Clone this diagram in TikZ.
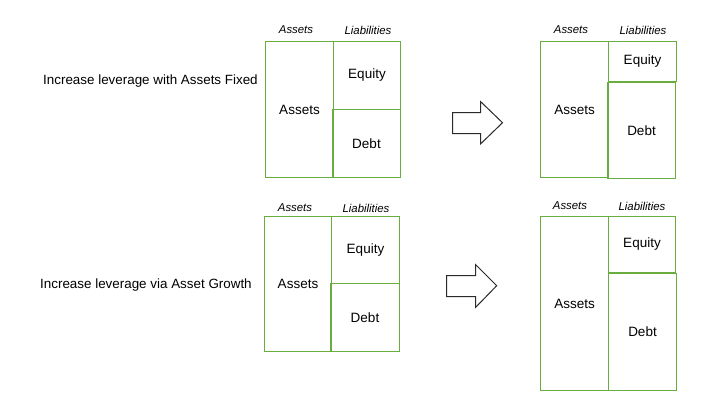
\documentclass[tikz,border=0pt]{standalone}
\usepackage{fontspec}
\setmainfont{Liberation Sans}
\definecolor{boxgreen}{HTML}{6AAD3F}
\definecolor{arrowgray}{HTML}{2A2A2A}
\begin{document}
\begin{tikzpicture}[x=1pt,y=-1pt,
  box/.style={draw=boxgreen,line width=1pt,inner sep=0pt,outer sep=0pt,anchor=north west,font=\fontsize{13.5}{15}\selectfont},
  head/.style={font=\itshape\fontsize{11.4}{13}\selectfont,inner sep=0pt},
  side/.style={font=\fontsize{13.4}{15}\selectfont,inner sep=0pt,anchor=west},
  bigarrow/.style={draw=arrowgray,line width=1pt,fill=white,line join=miter}]
\useasboundingbox (0,0) rectangle (720,405);
% ---- top row ----
\node[side] (t1) at (43,81) {Increase leverage with Assets Fixed};
\node[head] (h1a) at (296,30) {Assets};
\node[head] (h1l) at (368,30) {Liabilities};
\node[box,minimum width=68pt,minimum height=136pt] (a1) at (265.5,41.5) {Assets};
\node[box,minimum width=67pt,minimum height=68pt] (e1) at (333.5,41.5) {Equity};
\node[box,minimum width=68pt,minimum height=68pt] (d1) at (332.5,109.5) {Debt};

\draw[bigarrow] (452.5,112.5) -- (480.5,112.5) -- (480.5,101.5) -- (502.5,122.7) -- (480.5,144) -- (480.5,133.5) -- (452.5,133.5) -- cycle;

\node[head] (h2a) at (571,30) {Assets};
\node[head] (h2l) at (643,30) {Liabilities};
\node[box,minimum width=68pt,minimum height=136pt] (a2) at (540.5,41.5) {Assets};
\node[box,minimum width=68pt,minimum height=40pt] (e2) at (608.5,41.5) {Equity};
\node[box,minimum width=68pt,minimum height=96pt] (d2) at (607.5,82.5) {Debt};

% ---- bottom row ----
\node[side] (t2) at (40,285) {Increase leverage via Asset Growth};
\node[head] (h3a) at (295,208) {Assets};
\node[head] (h3l) at (366,208) {Liabilities};
\node[box,minimum width=67pt,minimum height=135pt] (a3) at (264.5,216.5) {Assets};
\node[box,minimum width=68pt,minimum height=67pt] (e3) at (331.5,216.5) {Equity};
\node[box,minimum width=69pt,minimum height=68pt] (d3) at (330.5,283.5) {Debt};

\draw[bigarrow] (446.5,275.5) -- (475.5,275.5) -- (475.5,264.5) -- (496.7,285.7) -- (475.5,307.5) -- (475.5,296.5) -- (446.5,296.5) -- cycle;

\node[head] (h4a) at (570,206) {Assets};
\node[head] (h4l) at (642,206) {Liabilities};
\node[box,minimum width=68pt,minimum height=174pt] (a4) at (540.5,216.5) {Assets};
\node[box,minimum width=67pt,minimum height=56pt] (e4) at (608.5,216.5) {Equity};
\node[box,minimum width=68pt,minimum height=117pt] (d4) at (608.5,273.5) {Debt};
\end{tikzpicture}
\end{document}
